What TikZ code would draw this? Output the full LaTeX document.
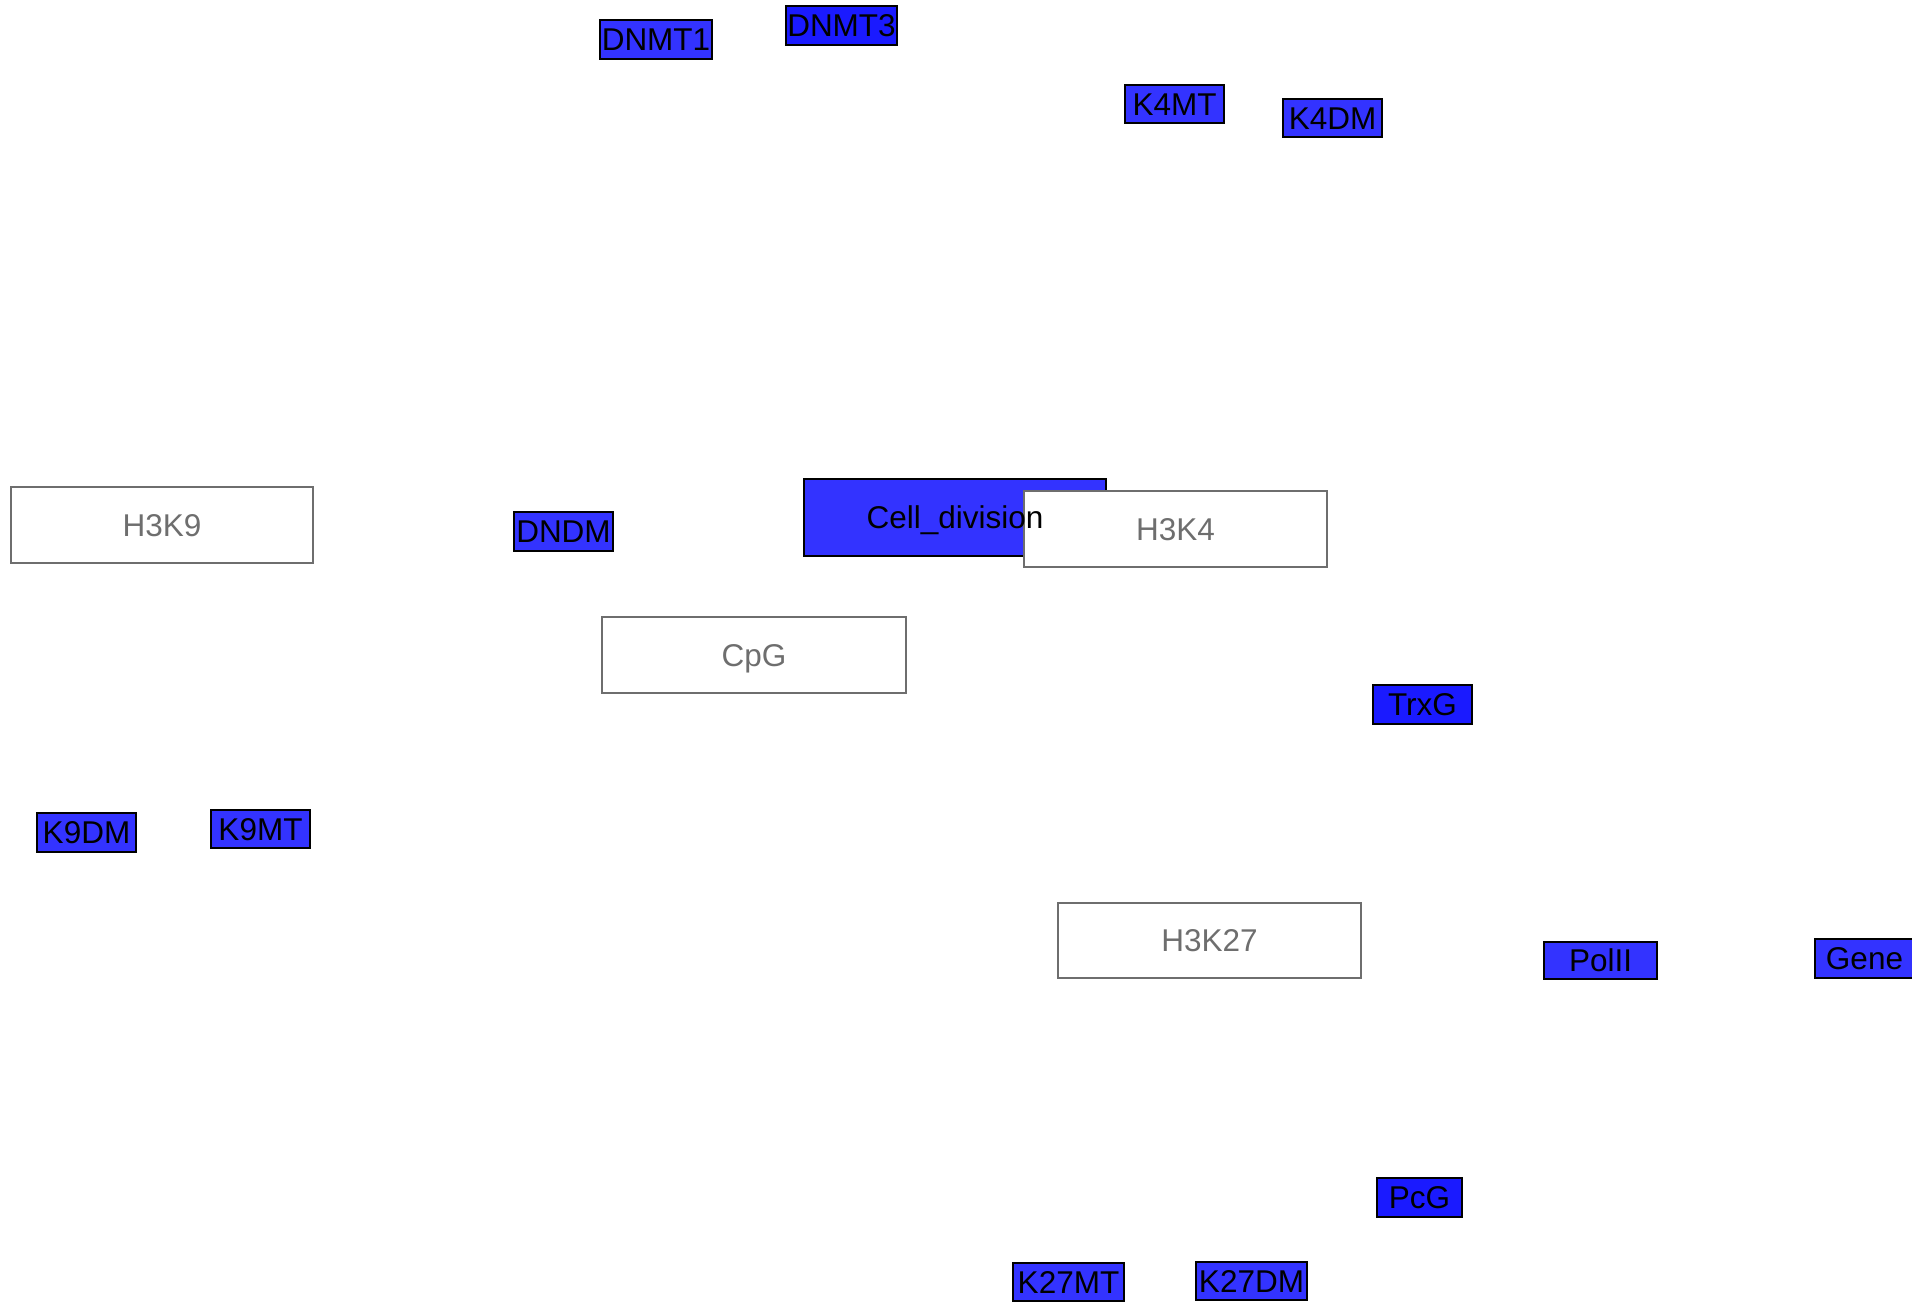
\documentclass[tikz,border=0pt]{standalone}
\usepackage{fontspec}
\setmainfont{Liberation Sans}
\definecolor{boxblue}{HTML}{3333FF}
\definecolor{deepblue}{HTML}{1A1AFF}
\definecolor{greyline}{HTML}{6E6E6E}
\begin{document}
\begin{tikzpicture}[x=1pt,y=-1pt,
  base/.style={rectangle, inner sep=0pt, text height=22.5pt, text depth=0pt,
    font=\fontsize{31.5}{36}\selectfont},
  bluebox/.style={base, draw=black, line width=2pt, fill=boxblue, text=black},
  deepbox/.style={bluebox, fill=deepblue},
  whitebox/.style={base, draw=greyline, line width=2pt, fill=white, text=greyline},
  toplabel/.style={base, text=black}]
\useasboundingbox (0,0) rectangle (1912,1302);
\node[bluebox, minimum width=112, minimum height=39] (dnmt1) at (656,39.5) {DNMT1};
\node[deepbox, minimum width=111, minimum height=39] (dnmt3) at (841.5,25.5) {DNMT3};
\node[bluebox, minimum width=99, minimum height=38] (k4mt) at (1174.5,104) {K4MT};
\node[bluebox, minimum width=99, minimum height=38] (k4dm) at (1332.5,118) {K4DM};
\node[whitebox, minimum width=302, minimum height=76] (h3k9) at (162,525) {H3K9};
\node[bluebox, minimum width=99, minimum height=39] (dndm) at (563.5,531.5) {DNDM};
\node[bluebox, minimum width=302, minimum height=77] (celldiv) at (955,517.5) {};
\node[whitebox, minimum width=303, minimum height=76] (h3k4) at (1175.5,529) {H3K4};
\node[toplabel] (celldivtext) at (celldiv.center) {Cell\_division};
\node[whitebox, minimum width=304, minimum height=76] (cpg) at (754,655) {CpG};
\node[deepbox, minimum width=99, minimum height=39] (trxg) at (1422.5,704.5) {TrxG};
\node[bluebox, minimum width=99, minimum height=39] (k9dm) at (86.5,832.5) {K9DM};
\node[bluebox, minimum width=99, minimum height=38] (k9mt) at (260.5,829) {K9MT};
\node[whitebox, minimum width=303, minimum height=75] (h3k27) at (1209.5,940.5) {H3K27};
\node[bluebox, minimum width=113, minimum height=37] (polii) at (1600.5,960.5) {PolII};
\node[bluebox, minimum width=99, minimum height=39] (gene) at (1864.5,958.5) {Gene};
\node[deepbox, minimum width=85, minimum height=39] (pcg) at (1419.5,1197.5) {PcG};
\node[bluebox, minimum width=111, minimum height=38] (k27mt) at (1068.5,1282) {K27MT};
\node[bluebox, minimum width=111, minimum height=38] (k27dm) at (1251.5,1281) {K27DM};
\end{tikzpicture}
\end{document}
